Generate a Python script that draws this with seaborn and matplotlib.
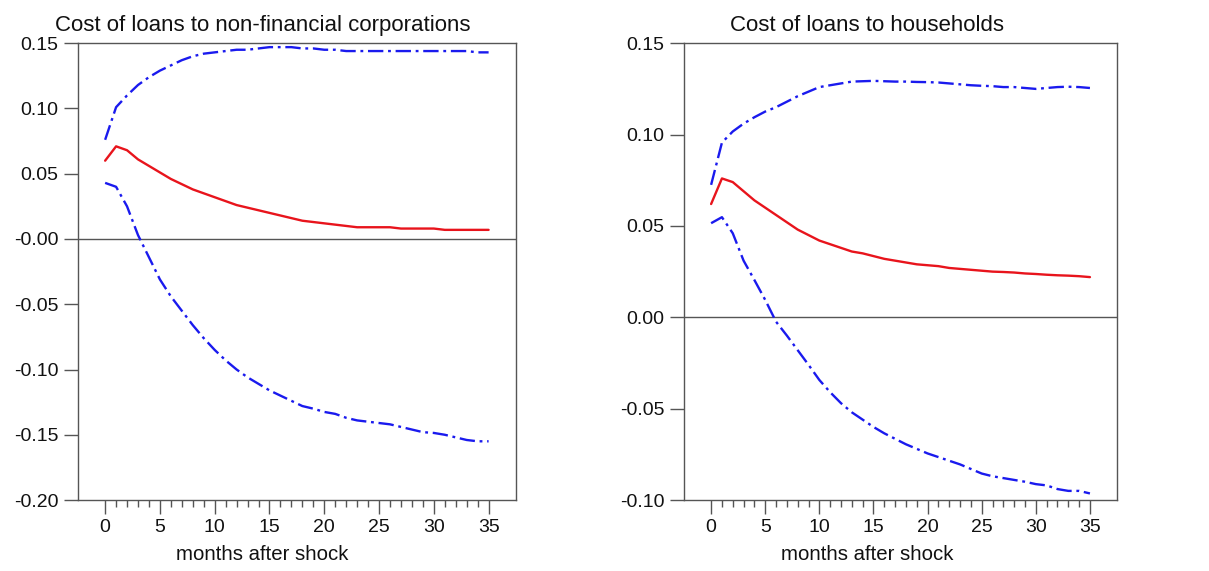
import matplotlib
matplotlib.use("Agg")
import matplotlib.pyplot as plt
import pandas as pd
import seaborn as sns
from matplotlib.ticker import FixedLocator

# %%
months = list(range(36))

nfc_mid = [0.060, 0.071, 0.068, 0.061, 0.056, 0.051, 0.046, 0.042, 0.038, 0.035,
           0.032, 0.029, 0.026, 0.024, 0.022, 0.020, 0.018, 0.016, 0.014, 0.013,
           0.012, 0.011, 0.010, 0.009, 0.009, 0.009, 0.009, 0.008, 0.008, 0.008,
           0.008, 0.007, 0.007, 0.007, 0.007, 0.007]
nfc_hi = [0.076, 0.101, 0.110, 0.118, 0.124, 0.129, 0.133, 0.137, 0.140, 0.142,
          0.143, 0.144, 0.145, 0.145, 0.146, 0.147, 0.147, 0.147, 0.146, 0.146,
          0.145, 0.145, 0.144, 0.144, 0.144, 0.144, 0.144, 0.144, 0.144, 0.144,
          0.144, 0.144, 0.144, 0.144, 0.143, 0.143]
nfc_lo = [0.043, 0.040, 0.025, 0.003, -0.014, -0.031, -0.044, -0.055, -0.066, -0.076,
          -0.085, -0.093, -0.100, -0.106, -0.111, -0.116, -0.120, -0.124, -0.128, -0.130,
          -0.1325, -0.134, -0.137, -0.139, -0.140, -0.141, -0.142, -0.144, -0.146, -0.148,
          -0.1486, -0.150, -0.152, -0.154, -0.155, -0.155]

hh_mid = [0.062, 0.076, 0.074, 0.069, 0.064, 0.060, 0.056, 0.052, 0.048, 0.045,
          0.042, 0.040, 0.038, 0.036, 0.035, 0.0335, 0.032, 0.031, 0.030, 0.029,
          0.0285, 0.028, 0.027, 0.0265, 0.026, 0.0255, 0.025, 0.0248, 0.0245, 0.024,
          0.0237, 0.0233, 0.023, 0.0228, 0.0225, 0.022]
hh_hi = [0.0725, 0.0956, 0.1017, 0.106, 0.1095, 0.1126, 0.115, 0.118, 0.121, 0.1235,
         0.126, 0.127, 0.128, 0.129, 0.1292, 0.1294, 0.1292, 0.129, 0.129, 0.1288,
         0.1287, 0.1285, 0.128, 0.1275, 0.127, 0.1267, 0.1265, 0.126, 0.126, 0.1255,
         0.125, 0.1255, 0.126, 0.1262, 0.126, 0.1255]
hh_lo = [0.0515, 0.0548, 0.046, 0.031, 0.0204, 0.0095, -0.0024, -0.010, -0.018, -0.026,
         -0.0343, -0.041, -0.047, -0.052, -0.056, -0.060, -0.0635, -0.0665, -0.0695, -0.072,
         -0.0745, -0.0765, -0.0785, -0.0805, -0.083, -0.0855, -0.087, -0.088, -0.089, -0.090,
         -0.0913, -0.092, -0.094, -0.095, -0.095, -0.0964]

titles = ["Cost of loans to non-financial corporations", "Cost of loans to households"]
nfc_yticks = [0.15, 0.10, 0.05, 0.0, -0.05, -0.10, -0.15, -0.20]
nfc_ylabels = ["0.15", "0.10", "0.05", "-0.00", "-0.05", "-0.10", "-0.15", "-0.20"]
hh_yticks = [0.15, 0.10, 0.05, 0.0, -0.05, -0.10]
hh_ylabels = ["0.15", "0.10", "0.05", "0.00", "-0.05", "-0.10"]

# %%
sns.set_style("ticks")
plt.rcParams["font.family"] = ["Liberation Sans", "DejaVu Sans"]

fig = plt.figure(figsize=(12.09, 5.71), dpi=100)
axes = [fig.add_axes([0.0643, 0.1243, 0.3625, 0.80]),
        fig.add_axes([0.5658, 0.1243, 0.3581, 0.80])]

panels = [
    (nfc_mid, nfc_hi, nfc_lo, (-0.20, 0.15), nfc_yticks, nfc_ylabels),
    (hh_mid, hh_hi, hh_lo, (-0.10, 0.15), hh_yticks, hh_ylabels),
]
dashdot = (0, (6.5, 2, 1.2, 2))

for ax, title, (mid, hi, lo, ylim, yt, yl) in zip(axes, titles, panels):
    df = pd.DataFrame({"month": months, "mid": mid, "hi": hi, "lo": lo})
    ax.axhline(0, color="#555555", lw=1.0, zorder=1)
    sns.lineplot(data=df, x="month", y="hi", ax=ax, color="#1a1aee", lw=1.7, linestyle=dashdot)
    sns.lineplot(data=df, x="month", y="lo", ax=ax, color="#1a1aee", lw=1.7, linestyle=dashdot)
    sns.lineplot(data=df, x="month", y="mid", ax=ax, color="#e8141c", lw=1.7)
    ax.set_xlim(-2.5, 37.5)
    ax.set_ylim(*ylim)
    ax.set_xticks(range(0, 36, 5))
    ax.xaxis.set_minor_locator(FixedLocator([m for m in months if m % 5 != 0]))
    ax.set_yticks(yt)
    ax.set_yticklabels(yl)
    ax.tick_params(axis="both", which="major", length=10, width=1, color="#555555",
                   labelsize=14, pad=4, labelcolor="#111111")
    ax.tick_params(axis="x", which="minor", length=5, width=1, color="#555555")
    for sp in ax.spines.values():
        sp.set_visible(True)
        sp.set_color("#555555")
        sp.set_linewidth(1.0)
    # titles and x labels sit a bit left of the panel centre in the original
    ax.set_title(title, fontsize=16, pad=9, color="#111111", x=0.422)
    ax.set_xlabel("months after shock", fontsize=14.7, labelpad=6, color="#111111")
    ax.xaxis.label.set_x(0.422)
    ax.set_ylabel("")

fig.savefig("out.png", dpi=100)
